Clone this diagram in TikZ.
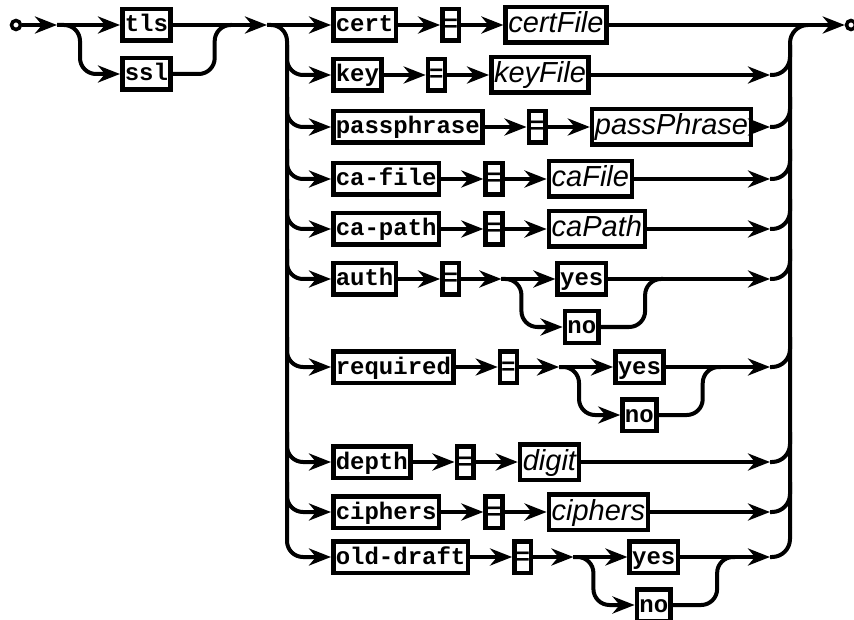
\documentclass[tikz,border=0pt]{standalone}
\usepackage{fontspec}
\usetikzlibrary{arrows.meta,positioning}
\newfontfamily\kwfont{Liberation Mono}
\newfontfamily\ntfont{Liberation Sans}
\tikzset{kw/.style={draw,line width=4.5pt,font=\kwfont\bfseries\fontsize{24pt}{24pt}\selectfont,minimum height=31.5pt,text height=19pt,text depth=5pt,inner xsep=2.5pt,inner ysep=0pt},eq/.style={kw,inner xsep=1.2pt},nt/.style={draw,line width=4.5pt,font=\ntfont\itshape\fontsize{29pt}{29pt}\selectfont,minimum height=35.5pt,text height=22pt,text depth=6pt,inner xsep=2.8pt,inner ysep=0pt},link/.style={line width=4pt},arr/.style={link,-{Stealth[length=22pt,width=17pt,inset=7pt]}},term/.style={circle,draw,line width=3.5pt,inner sep=0pt,minimum size=9pt}}

\begin{document}
\begin{tikzpicture}[x=1pt,y=-1pt]
\useasboundingbox (0,0) rectangle (854,620);
\node[term] (entry) at (16,25) {};
\node[term] (exit) at (851,25) {};
\coordinate (j0) at (57,25);
\coordinate (j1) at (267,25);
\coordinate (ls) at (287,25);
\coordinate (rs) at (770,25);
\coordinate (stem) at (790,25);
% tls / ssl
\node[kw,anchor=west] (tls) at (120,25) {tls};
\node[kw,below=13pt of tls] (ssl) {ssl};
\draw[arr] (entry) -- (j0);
\draw[arr] (j0) -- (tls);
\draw[arr,rounded corners=16pt] (j0) -- ++(23pt,0) |- (ssl);
\draw[link,rounded corners=16pt] (ssl.east) -| ([xshift=42pt]tls.east) -- ++(17pt,0);
\draw[arr] (tls) -- (j1);
% options
\node[kw,anchor=west] (cert) at (331,25) {cert};
\node[eq,right=42pt of cert] (cert eq) {=};
\node[nt,right=42pt of cert eq] (cert val) {certFile};
\draw[arr] (j1) -- (cert);
\draw[arr] (cert) -- (cert eq);
\draw[arr] (cert eq) -- (cert val);
\draw[arr] (cert val) -- (exit);
\foreach \n/\yy/\kw/\val in {key/75/key/keyFile,pass/127/passphrase/passPhrase,cafile/179/ca-file/caFile,capath/229/ca-path/caPath,depth/462/depth/digit,ciph/512/ciphers/ciphers}{
\node[kw,anchor=west] (\n) at (331,\yy) {\kw};
\node[eq,right=42pt of \n] (\n eq) {=};
\node[nt,right=42pt of \n eq] (\n val) {\val};
\draw[arr] (\n) -- (\n eq);
\draw[arr] (\n eq) -- (\n val);
\draw[arr] (\n val) -- (rs |- \n);
}
\foreach \n/\yy/\kw in {auth/279/auth,req/367/required,old/557/old-draft}{
\node[kw,anchor=west] (\n) at (331,\yy) {\kw};
\node[eq,right=42pt of \n] (\n eq) {=};
\coordinate[right=40pt of \n eq] (\n br);
\node[kw,right=54pt of \n br] (\n yes) {yes};
\node[kw,below=12pt of \n yes] (\n no) {no};
\coordinate[right=37pt of \n yes] (\n mg);
\draw[arr] (\n) -- (\n eq);
\draw[arr] (\n eq) -- (\n br);
\draw[arr] (\n br) -- (\n yes);
\draw[arr,rounded corners=16pt] (\n br) -- ++(20pt,0) |- (\n no);
\draw[link,rounded corners=16pt] (\n no.east) -| (\n mg) -- ++(18pt,0);
\draw[arr] (\n yes) -- (rs |- \n);
}
% stems
\draw[link,rounded corners=16pt] (j1) -- (ls) -- ([yshift=30pt]ls |- old);
\draw[link,rounded corners=18pt] ([yshift=30pt]stem |- old) -- (stem) -- ++(18pt,0);
\foreach \n in {key,pass,cafile,capath,auth,req,depth,ciph,old}{
\draw[arr,rounded corners=16pt] ([yshift=30pt]ls |- \n) -- (ls |- \n) -- (\n);
\draw[link,rounded corners=18pt] (rs |- \n) -- (stem |- \n) -- ([yshift=30pt]stem |- \n);
}
\end{tikzpicture}
\end{document}
